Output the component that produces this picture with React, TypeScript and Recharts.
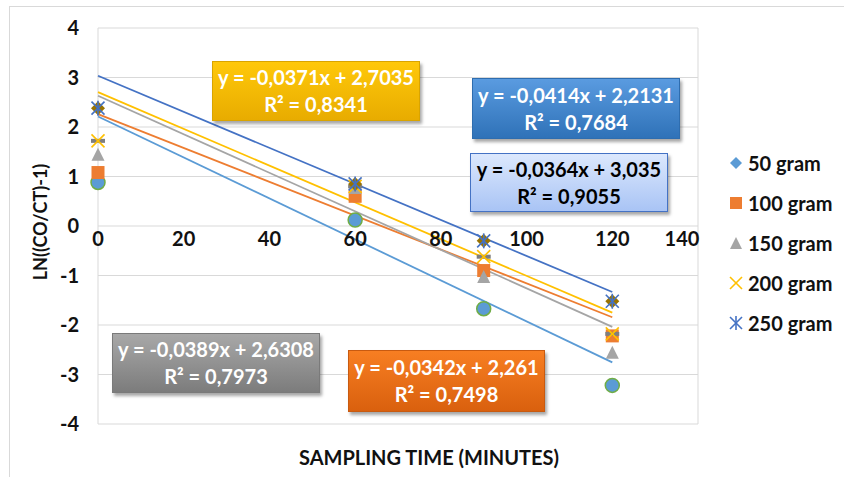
import React from 'react';
import {
  ComposedChart,
  Scatter,
  Line,
  XAxis,
  YAxis,
  CartesianGrid,
  ReferenceDot,
} from 'recharts';

// sampling time (minutes)
const times = [0, 60, 90, 120];

// LN((CO/CT)-1) per dose
const gram50 = [0.88, 0.12, -1.67, -3.22];
const gram100 = [1.08, 0.6, -0.9, -2.22];
const gram150 = [1.45, 0.78, -1.02, -2.55];
const gram200 = [1.72, 0.8, -0.62, -2.18];
const gram250 = [2.38, 0.85, -0.3, -1.52];

const seriesNames = ['50 gram', '100 gram', '150 gram', '200 gram', '250 gram'];
const seriesColors = ['#5B9BD5', '#ED7D31', '#A5A5A5', '#FFC000', '#4472C4'];
const seriesMarkers = ['diamond', 'square', 'triangle', 'cross', 'star'];

// linear trendlines, value at t=0 and at t=120
const trendStart = [2.2131, 2.261, 2.6308, 2.7035, 3.035];
const trendEnd = [-2.7549, -1.843, -2.0372, -1.7485, -1.333];

const equations = [
  'y = -0,0414x + 2,2131',
  'y = -0,0342x + 2,261',
  'y = -0,0389x + 2,6308',
  'y = -0,0371x + 2,7035',
  'y = -0,0364x + 3,035',
];
const rSquared = ['R² = 0,7684', 'R² = 0,7498', 'R² = 0,7973', 'R² = 0,8341', 'R² = 0,9055'];

const xTicks = [0, 20, 40, 60, 80, 100, 120, 140];
const yTicks = [-4, -3, -2, -1, 0, 1, 2, 3, 4];

const FONT = 'Lato, "Open Sans", sans-serif';
const TEXT = '#111';

const toPoints = (vals: number[]) => vals.map((v, i) => ({ x: times[i], y: v }));

function Marker({ cx, cy, kind, color, size = 12 }: any) {
  const h = size / 2;
  switch (kind) {
    case 'diamond':
      return <polygon points={`${cx},${cy - h} ${cx + h},${cy} ${cx},${cy + h} ${cx - h},${cy}`} fill={color} />;
    case 'square':
      return <rect x={cx - h} y={cy - h} width={size} height={size} fill={color} />;
    case 'triangle':
      return <polygon points={`${cx},${cy - h} ${cx + h},${cy + h} ${cx - h},${cy + h}`} fill={color} />;
    case 'cross':
      return (
        <g stroke={color} strokeWidth={1.6}>
          <line x1={cx - h} y1={cy - h} x2={cx + h} y2={cy + h} />
          <line x1={cx - h} y1={cy + h} x2={cx + h} y2={cy - h} />
        </g>
      );
    case 'star':
      return (
        <g stroke={color} strokeWidth={1.6}>
          <line x1={cx - h} y1={cy - h} x2={cx + h} y2={cy + h} />
          <line x1={cx - h} y1={cy + h} x2={cx + h} y2={cy - h} />
          <line x1={cx} y1={cy - h - 1} x2={cx} y2={cy + h + 1} />
        </g>
      );
    case 'circle':
      return <circle cx={cx} cy={cy} r={h} fill="#5B9BD5" stroke="#70AD47" strokeWidth={1.5} />;
    case 'dash':
      return <rect x={cx - 7} y={cy - 2} width={14} height={4} fill="#7F7F7F" />;
    case 'blob':
      return <polygon points={`${cx},${cy - 7} ${cx + 7},${cy} ${cx},${cy + 7} ${cx - 7},${cy}`} fill="#997300" />;
    default:
      return null;
  }
}

function EqBox({ style, eq, r2, color }: any) {
  return (
    <div
      style={{
        position: 'absolute',
        display: 'flex',
        flexDirection: 'column',
        alignItems: 'center',
        justifyContent: 'center',
        fontFamily: FONT,
        fontWeight: 700,
        fontSize: 20,
        lineHeight: '27px',
        color,
        boxSizing: 'border-box',
        boxShadow: '2px 3px 3px rgba(0,0,0,0.35)',
        whiteSpace: 'nowrap',
        ...style,
      }}
    >
      <div>{eq}</div>
      <div>{r2}</div>
    </div>
  );
}

export default function App() {
  return (
    <div style={{ position: 'absolute', left: 0, top: 0, width: 844, height: 477, background: '#fff', overflow: 'hidden' }}>
      <div
        style={{
          position: 'absolute',
          left: 9,
          top: 6,
          width: 850,
          height: 490,
          borderLeft: '1px solid #D9D9D9',
          borderTop: '1px solid #D9D9D9',
        }}
      />
      <ComposedChart width={844} height={477} margin={{ top: 28, right: 146, bottom: 0, left: 0 }}>
        <CartesianGrid stroke="#D9D9D9" strokeWidth={1} />
        <XAxis
          type="number"
          dataKey="x"
          domain={[0, 140]}
          ticks={xTicks}
          tick={false}
          axisLine={false}
          tickLine={false}
          height={53}
          label={{
            value: 'SAMPLING TIME (MINUTES)',
            position: 'insideBottom',
            offset: 12,
            dx: 31,
            style: { fontFamily: FONT, fontWeight: 700, fontSize: 20, fill: TEXT },
          }}
        />
        <YAxis
          type="number"
          dataKey="y"
          domain={[-4, 4]}
          ticks={yTicks}
          width={98}
          axisLine={false}
          tickLine={false}
          tickMargin={13}
          tick={{ fontFamily: FONT, fontWeight: 700, fontSize: 20, fill: TEXT }}
          label={{
            content: ({ viewBox }: any) => (
              <text
                x={40}
                y={viewBox.y + viewBox.height / 2 - 4}
                transform={`rotate(-90, 40, ${viewBox.y + viewBox.height / 2 - 4})`}
                textAnchor="middle"
                dominantBaseline="central"
                style={{ fontFamily: FONT, fontWeight: 700, fontSize: 18, fill: TEXT }}
              >
                LN((CO/CT)-1)
              </text>
            ),
          }}
        />

        {xTicks.map((t, i) => (
          <ReferenceDot
            key={`xt-${t}`}
            x={t}
            y={0}
            r={1}
            fill="none"
            stroke="none"
            label={{
              value: String(t),
              position: 'bottom',
              offset: 5,
              dx: i === xTicks.length - 1 ? -16 : 0,
              style: { fontFamily: FONT, fontWeight: 700, fontSize: 20, fill: TEXT },
            }}
          />
        ))}

        {seriesNames.map((name, i) => (
          <Line
            key={`trend-${name}`}
            data={[
              { x: times[0], y: trendStart[i] },
              { x: times[times.length - 1], y: trendEnd[i] },
            ]}
            dataKey="y"
            type="linear"
            stroke={seriesColors[i]}
            strokeWidth={1.8}
            dot={false}
            activeDot={false}
            legendType="none"
            isAnimationActive={false}
          />
        ))}

        <Scatter
          data={toPoints(gram50)}
          dataKey="y"
          isAnimationActive={false}
          shape={(p: any) => <Marker cx={p.cx} cy={p.cy} kind="circle" size={14} />}
        />
        <Scatter
          data={toPoints(gram100)}
          dataKey="y"
          isAnimationActive={false}
          shape={(p: any) => <Marker cx={p.cx} cy={p.cy} kind="square" color={seriesColors[1]} size={13} />}
        />
        <Scatter
          data={toPoints(gram150)}
          dataKey="y"
          isAnimationActive={false}
          shape={(p: any) => <Marker cx={p.cx} cy={p.cy} kind="triangle" color={seriesColors[2]} size={13} />}
        />
        <Scatter
          data={toPoints(gram200)}
          dataKey="y"
          isAnimationActive={false}
          shape={(p: any) => <Marker cx={p.cx} cy={p.cy} kind="dash" />}
        />
        <Scatter
          data={toPoints(gram200)}
          dataKey="y"
          isAnimationActive={false}
          shape={(p: any) => <Marker cx={p.cx} cy={p.cy} kind="cross" color={seriesColors[3]} size={13} />}
        />
        <Scatter
          data={toPoints(gram250)}
          dataKey="y"
          isAnimationActive={false}
          shape={(p: any) => <Marker cx={p.cx} cy={p.cy} kind="blob" />}
        />
        <Scatter
          data={toPoints(gram250)}
          dataKey="y"
          isAnimationActive={false}
          shape={(p: any) => <Marker cx={p.cx} cy={p.cy} kind="star" color={seriesColors[4]} size={13} />}
        />
      </ComposedChart>

      {/* trendline labels */}
      <EqBox
        eq={equations[3]}
        r2={rSquared[3]}
        color="#fff"
        style={{ left: 212, top: 61, width: 208, height: 60, background: 'linear-gradient(#FFC80A, #E8AC00)', border: '1px solid #D9A400' }}
      />
      <EqBox
        eq={equations[0]}
        r2={rSquared[0]}
        color="#fff"
        style={{ left: 472, top: 78, width: 208, height: 61, background: 'linear-gradient(#5A9BE0, #2F72B8)', border: '1px solid #2E6DAF' }}
      />
      <EqBox
        eq={equations[4]}
        r2={rSquared[4]}
        color="#000"
        style={{ left: 470, top: 153, width: 198, height: 59, background: 'linear-gradient(#DCE8FD, #A9C4F5)', border: '1px solid #4472C4' }}
      />
      <EqBox
        eq={equations[2]}
        r2={rSquared[2]}
        color="#fff"
        style={{ left: 112, top: 333, width: 208, height: 60, background: 'linear-gradient(#A8A8A8, #7C7C7C)', border: '1px solid #7A7A7A' }}
      />
      <EqBox
        eq={equations[1]}
        r2={rSquared[1]}
        color="#fff"
        style={{ left: 348, top: 350, width: 197, height: 62, background: 'linear-gradient(#F77E22, #D9600E)', border: '1px solid #C85A10' }}
      />

      {/* legend */}
      <div style={{ position: 'absolute', left: 727, top: 143, fontFamily: FONT, fontWeight: 700, fontSize: 20, color: TEXT }}>
        {seriesNames.map((name, i) => (
          <div key={name} style={{ display: 'flex', alignItems: 'center', height: 40 }}>
            <svg width={18} height={18} style={{ marginRight: 3 }}>
              <Marker cx={9} cy={9} kind={seriesMarkers[i]} color={seriesColors[i]} size={12} />
            </svg>
            <span>{name}</span>
          </div>
        ))}
      </div>
    </div>
  );
}
